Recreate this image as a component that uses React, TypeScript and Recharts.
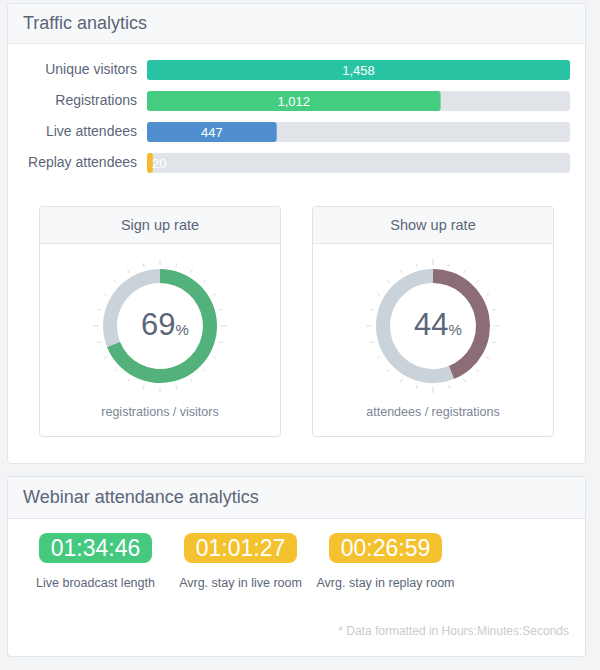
import React from "react";
import {
  BarChart,
  Bar,
  XAxis,
  YAxis,
  Cell,
  LabelList,
  PieChart,
  Pie,
} from "recharts";

// traffic funnel
const metricNames = ["Unique visitors", "Registrations", "Live attendees", "Replay attendees"];
const metricValues = [1458, 1012, 447, 20];
const METRIC_COLORS = ["#27c3a3", "#44cd80", "#4f8fcf", "#f6ba2c"];

// rates
const rateTitles = ["Sign up rate", "Show up rate"];
const rateValues = [69, 44];
const rateCaptions = ["registrations / visitors", "attendees / registrations"];
const RATE_COLORS = ["#53b27c", "#8c6c77"];

// durations
const durationValues = ["01:34:46", "01:01:27", "00:26:59"];
const durationLabels = ["Live broadcast length", "Avrg. stay in live room", "Avrg. stay in replay room"];
const DURATION_COLORS = ["#44c97f", "#f4c12f", "#f4c12f"];

const TEXT = "#5b6678";
const FONT = '"Helvetica Neue", Helvetica, Arial, "Liberation Sans", sans-serif';

const barData = metricNames.map((name, i) => ({ name, value: metricValues[i] }));

const RADIAN = Math.PI / 180;
const dialTicks = new Array(24).fill(1);

const DONUT_CX = 120;
const DONUT_CY = 119;

function BarValue(props: any) {
  const { x, y, width, height, value } = props;
  const txt = Number(value).toLocaleString("en-US");
  const small = width < 30;
  return (
    <text
      x={small ? x + 5 : x + width / 2}
      y={y + height / 2}
      textAnchor={small ? "start" : "middle"}
      dominantBaseline="central"
      fill="#fff"
      fontSize={13}
    >
      {txt}
    </text>
  );
}

function DialTick(props: any) {
  const { cx, cy, midAngle, index } = props;
  const major = index % 6 === 0;
  const r1 = 61;
  const r2 = major ? 67 : 65;
  const cos = Math.cos(-midAngle * RADIAN);
  const sin = Math.sin(-midAngle * RADIAN);
  return (
    <line
      x1={cx + r1 * cos}
      y1={cy + r1 * sin}
      x2={cx + r2 * cos}
      y2={cy + r2 * sin}
      stroke="#dcdcdc"
      strokeWidth={1}
    />
  );
}

function RateCard({ idx, left }: { idx: number; left: number }) {
  const value = rateValues[idx];
  const data = [
    { name: "rate", value },
    { name: "rest", value: 100 - value },
  ];
  return (
    <div
      style={{
        position: "absolute",
        left,
        top: 206,
        width: 242,
        height: 231,
        boxSizing: "border-box",
        border: "1px solid #dfe2e6",
        borderRadius: 4,
        background: "#fff",
      }}
    >
      <PieChart width={240} height={229} margin={{ top: 0, right: 0, bottom: 0, left: 0 }}>
        <Pie
          data={dialTicks.map((v, i) => ({ name: "t" + i, value: v }))}
          dataKey="value"
          cx={DONUT_CX}
          cy={DONUT_CY}
          innerRadius={60}
          outerRadius={67}
          startAngle={97.5}
          endAngle={-262.5}
          fill="none"
          stroke="none"
          label={DialTick}
          labelLine={false}
          isAnimationActive={false}
        />
        <Pie
          data={data}
          dataKey="value"
          cx={DONUT_CX}
          cy={DONUT_CY}
          innerRadius={43}
          outerRadius={57}
          startAngle={90}
          endAngle={-270}
          stroke="none"
          isAnimationActive={false}
        >
          <Cell fill={RATE_COLORS[idx]} />
          <Cell fill="#c9d3d9" />
        </Pie>
      </PieChart>
      <svg
        width={240}
        height={229}
        style={{ position: "absolute", left: 0, top: 0, pointerEvents: "none" }}
      >
        <text x={DONUT_CX + 5} y={DONUT_CY + 9} textAnchor="middle" fill={TEXT}>
          <tspan fontSize={31}>{value}</tspan>
          <tspan fontSize={15}>%</tspan>
        </text>
      </svg>
      <div
        style={{
          position: "absolute",
          left: 0,
          top: 0,
          width: 240,
          height: 36,
          lineHeight: "36px",
          background: "#f7f8fa",
          borderBottom: "1px solid #e3e6ea",
          borderRadius: "4px 4px 0 0",
          textAlign: "center",
          fontSize: 14.5,
          color: TEXT,
        }}
      >
        {rateTitles[idx]}
      </div>
      <div
        style={{
          position: "absolute",
          left: 0,
          top: 197,
          width: 240,
          height: 16,
          lineHeight: "16px",
          textAlign: "center",
          fontSize: 12.5,
          color: "#7c8694",
        }}
      >
        {rateCaptions[idx]}
      </div>
    </div>
  );
}

function Panel({ top, height, headerH, title }: { top: number; height: number; headerH: number; title: string }) {
  return (
    <div
      style={{
        position: "absolute",
        left: 7,
        top,
        width: 579,
        height,
        boxSizing: "border-box",
        border: "1px solid #e1e4e8",
        borderRadius: 4,
        background: "#fff",
      }}
    >
      <div
        style={{
          height: headerH - 1,
          lineHeight: headerH - 1 + "px",
          background: "#f7f8fa",
          borderBottom: "1px solid #e4e7eb",
          borderRadius: "4px 4px 0 0",
          paddingLeft: 15,
          fontSize: 18,
          color: TEXT,
        }}
      >
        {title}
      </div>
    </div>
  );
}

export default function App() {
  return (
    <div
      style={{
        position: "absolute",
        left: 0,
        top: 0,
        width: 600,
        height: 670,
        background: "#f3f4f6",
        fontFamily: FONT,
        overflow: "hidden",
      }}
    >
      <Panel top={3} height={461} headerH={40} title="Traffic analytics" />

      <div style={{ position: "absolute", left: 0, top: 54 }}>
        <BarChart
          layout="vertical"
          width={600}
          height={124}
          data={barData}
          margin={{ top: 0, right: 30, bottom: 0, left: 0 }}
          barSize={20}
        >
          <XAxis type="number" hide domain={[0, "dataMax"]} />
          <YAxis
            type="category"
            dataKey="name"
            width={147}
            axisLine={false}
            tickLine={false}
            tickSize={0}
            tickMargin={10}
            tick={{ fill: TEXT, fontSize: 14 }}
          />
          <Bar
            dataKey="value"
            radius={3}
            background={{ fill: "#e0e3e8", radius: 3 }}
            isAnimationActive={false}
          >
            {barData.map((d, i) => (
              <Cell key={d.name} fill={METRIC_COLORS[i]} />
            ))}
            <LabelList dataKey="value" content={BarValue} />
          </Bar>
        </BarChart>
      </div>

      <RateCard idx={0} left={39} />
      <RateCard idx={1} left={312} />

      <Panel top={476} height={181} headerH={42} title="Webinar attendance analytics" />

      {durationValues.map((v, i) => (
        <div
          key={v + i}
          style={{ position: "absolute", left: 23 + i * 145, top: 533, width: 145, textAlign: "center" }}
        >
          <div
            style={{
              display: "inline-block",
              width: 113,
              height: 30,
              lineHeight: "30px",
              borderRadius: 8,
              background: DURATION_COLORS[i],
              color: "#fff",
              fontSize: 23,
            }}
          >
            {v}
          </div>
          <div style={{ marginTop: 12, fontSize: 12.5, lineHeight: "16px", color: TEXT, whiteSpace: "nowrap" }}>
            {durationLabels[i]}
          </div>
        </div>
      ))}

      <div
        style={{
          position: "absolute",
          right: 31,
          top: 623,
          lineHeight: "16px",
          fontSize: 12,
          color: "#c9ccd1",
        }}
      >
        * Data formatted in Hours:Minutes:Seconds
      </div>
    </div>
  );
}
